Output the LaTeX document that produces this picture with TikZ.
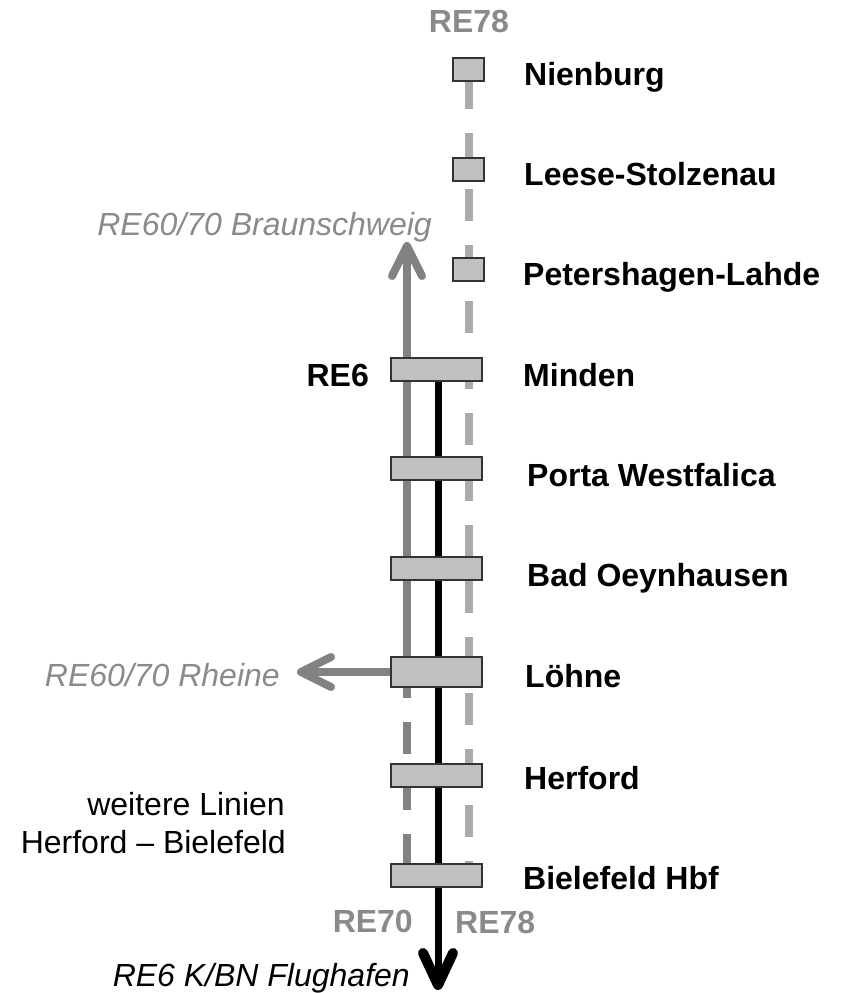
\documentclass[tikz,border=0pt]{standalone}
\usepackage{fontspec}
\setmainfont{Liberation Sans}
\usetikzlibrary{arrows.meta,backgrounds}
\definecolor{boxfill}{HTML}{C0C0C0}
\definecolor{boxline}{HTML}{333333}
\definecolor{lineA}{HTML}{828282}
\definecolor{lineB}{HTML}{ABABAB}
\definecolor{txtgray}{HTML}{8A8A8A}
\begin{document}
\begin{tikzpicture}[x=1pt,y=-1pt,
  bigstop/.style={draw=boxline, fill=boxfill, line width=1.4pt, minimum width=91pt, minimum height=23pt, inner sep=0pt},
  tallstop/.style={bigstop, minimum height=30pt},
  smallstop/.style={bigstop, minimum width=31pt},
  station/.style={anchor=base west, inner sep=0pt, font=\fontsize{32}{38}\selectfont\bfseries},
  graylbl/.style={inner sep=0pt, text=txtgray, font=\fontsize{32}{38}\selectfont\bfseries},
  dirlbl/.style={inner sep=0pt, text=txtgray, font=\fontsize{32}{38}\selectfont\itshape},
  plainlbl/.style={inner sep=0pt, font=\fontsize{32}{38}\selectfont},
  reA/.style={draw=lineA, line width=8pt},
  reAdash/.style={draw=lineA, line width=8pt, dash pattern=on 32pt off 24pt},
  reBdash/.style={draw=lineB, line width=8pt, dash pattern=on 32pt off 24pt},
  reBlack/.style={draw=black, line width=7pt},
  grayhead/.style={-{Straight Barb[length=30pt,width=30pt,round]}},
  blackhead/.style={-{Straight Barb[length=32pt,width=30pt,line width=10pt,round]}}
]
\useasboundingbox (0,0) rectangle (846,993);

% stops
\node[smallstop] (nienburg) at (468.5,69.5) {};
\node[smallstop] (leese) at (468.5,169.5) {};
\node[smallstop] (peters) at (468.5,269.5) {};
\node[bigstop] (minden) at (436.5,369.5) {};
\node[bigstop] (porta) at (436.5,468.5) {};
\node[bigstop] (oeyn) at (436.5,568.5) {};
\node[tallstop] (loehne) at (436.5,672) {};
\node[bigstop] (herford) at (436.5,775.5) {};
\node[bigstop] (bielefeld) at (436.5,875.5) {};

% free ends
\coordinate (braun) at (407,242);
\coordinate (rheine) at (297,672);
\coordinate (flug) at (438,990);

\begin{scope}[on background layer]
  \draw[reBdash] ([yshift=-7.5pt]nienburg.center) -- (bielefeld.north -| nienburg.center);
  \draw[reAdash] ([yshift=6pt]loehne.center -| braun) -- (bielefeld.north -| braun);
  \draw[reA, grayhead] (loehne.center -| braun) -- (braun);
  \draw[reA, grayhead] (loehne.west) -- (rheine);
  \draw[reBlack, blackhead] (minden.south -| flug) -- (flug);
\end{scope}

% station names
\node[station] (tnien) at (524,85) {Nienburg};
\node[station] (tleese) at (524,185) {Leese-Stolzenau};
\node[station] (tpeters) at (523,285) {Petershagen-Lahde};
\node[station] (tminden) at (523,386) {Minden};
\node[station] (tporta) at (527,486) {Porta Westfalica};
\node[station] (toeyn) at (527,586) {Bad Oeynhausen};
\node[station] (tloehne) at (525,687) {Löhne};
\node[station] (therford) at (524,789) {Herford};
\node[station] (tbiel) at (523,889) {Bielefeld Hbf};

\node[station, anchor=base east] (re6) at (369,386) {RE6};

% line labels
\node[graylbl, anchor=base] (re78top) at (469,32) {RE78};
\node[graylbl, anchor=base east] (re70) at (413,932) {RE70};
\node[graylbl, anchor=base west] (re78bot) at (455,933) {RE78};

\node[dirlbl, anchor=base east] (tbraun) at (432,235) {RE60/70 Braunschweig};
\node[dirlbl, anchor=base east] (trheine) at (280,686) {RE60/70 Rheine};
\node[plainlbl, anchor=base east] (tweit1) at (285,815) {weitere Linien};
\node[plainlbl, anchor=base east] (tweit2) at (286,853) {Herford – Bielefeld};
\node[plainlbl, anchor=base east, font=\fontsize{32}{38}\selectfont\itshape] (tflug) at (410,986) {RE6 K/BN Flughafen};
\end{tikzpicture}
\end{document}
